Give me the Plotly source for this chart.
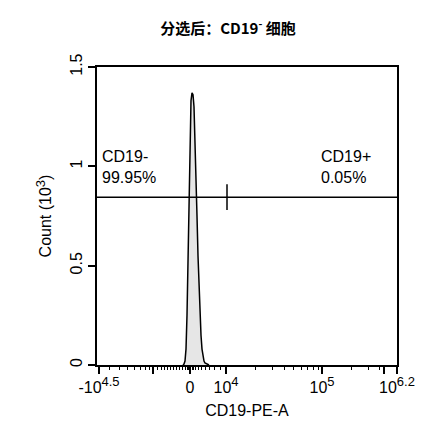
import plotly.graph_objects as go

# display channel units (biexponential-scaled axis, 0..300)
chan = [86, 87, 88, 89, 90, 91, 92, 93, 94, 95, 96, 97, 98, 99, 100, 101, 102, 103, 104, 105, 106, 107, 108, 110, 112]
count = [0, 0.005, 0.02, 0.08, 0.25, 0.55, 0.9, 1.2, 1.33, 1.37, 1.36, 1.3, 1.15, 0.95, 0.75, 0.55, 0.38,
         0.25, 0.15, 0.08, 0.04, 0.02, 0.01, 0.005, 0]

major_vals = [2, 56, 93, 129, 225, 287, 300]
sup = '<sup><span style="font-size:13px">%s</span></sup>'
major_text = ['-10' + sup % '4.5', '', '0', '10' + sup % '4', '10' + sup % '5', '', '10' + sup % '6.2']
minor_vals = [12, 22, 30, 37, 43, 48, 52, 60, 64, 67, 70, 73, 76, 79, 82, 85, 88, 90, 91, 95, 96, 98, 101,
              104, 108, 112, 117, 123, 158, 175, 187, 196, 204, 210, 216, 221, 254, 271, 282]

gate_y = 0.845
gate_x = 130

fig = go.Figure()
fig.add_trace(go.Scatter(x=chan, y=count, mode='lines', fill='tozeroy', fillcolor='#e6e6e6',
                         line=dict(color='black', width=1.5), showlegend=False))
fig.add_trace(go.Scatter(x=[0, 300], y=[gate_y, gate_y], mode='lines', line=dict(color='black', width=1.5),
                         showlegend=False))
fig.add_trace(go.Scatter(x=[gate_x, gate_x], y=[0.78, 0.91], mode='lines', line=dict(color='black', width=1.5),
                         showlegend=False))
fig.add_trace(go.Scatter(x=[0], y=[0], xaxis='x2', mode='markers', marker=dict(opacity=0), showlegend=False))

fnt = dict(family='Liberation Sans, Arial', size=16, color='black')
fig.add_annotation(x=3, y=1.1, text='CD19-<br>99.95%', showarrow=False, xanchor='left', yanchor='top',
                   align='left', font=fnt)
fig.add_annotation(x=222, y=1.1, text='CD19+<br>0.05%', showarrow=False, xanchor='left', yanchor='top',
                   align='left', font=fnt)

fig.update_layout(
    width=440, height=445, margin=dict(l=89, r=51, t=59, b=88),
    plot_bgcolor='white', paper_bgcolor='white',
    title=dict(text='<b>分选后：CD19<sup>-</sup> 细胞</b>', x=0.5, xanchor='center', y=0.965,
               font=dict(family='Noto Sans CJK SC', size=15, color='black')),
    xaxis=dict(range=[0, 300], tickvals=major_vals, ticktext=major_text, ticks='outside', ticklen=7,
               tickwidth=1.5, tickcolor='black', showgrid=False, zeroline=False, showline=True,
               linecolor='black', linewidth=1.5, mirror=True, tickfont=fnt,
               title=dict(text='CD19-PE-A', font=fnt, standoff=10)),
    xaxis2=dict(range=[0, 300], overlaying='x', side='bottom', tickvals=minor_vals, ticktext=['']*len(minor_vals),
                ticks='outside', ticklen=4, tickwidth=1, tickcolor='black', showgrid=False, zeroline=False,
                showline=False),
    yaxis=dict(range=[0, 1.5], tickvals=[0, 0.5, 1, 1.5], ticktext=['0', '0.5', '1', '1.5'], tickangle=-90,
               ticks='outside', ticklen=7, tickwidth=1.5, tickcolor='black', showgrid=False, zeroline=False,
               showline=True, linecolor='black', linewidth=1.5, mirror=True, tickfont=fnt,
               title=dict(text='Count (10<sup><span style="font-size:13px">3</span></sup>)', font=fnt, standoff=12)),
)
fig.write_html('out.html')
